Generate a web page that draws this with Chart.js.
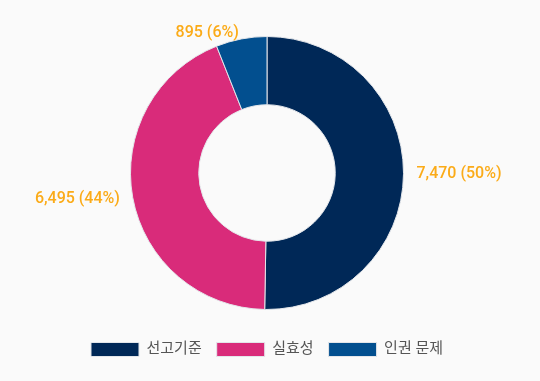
<!DOCTYPE html>
<html>
<head>
<meta charset="UTF-8">
<title>선고기준</title>
<script src="https://cdn.jsdelivr.net/npm/chart.js"></script>
<style>
    html, body { margin: 0; padding: 0; background: #fafafa; }
    #wrap { width: 540px; height: 381px; }
</style>
</head>
<body>
<div id="wrap"><canvas id="donutChart"></canvas></div>
<script>
    // 데이터
    const labels = ['선고기준', '실효성', '인권 문제'];
    const counts = [7470, 6495, 895];
    const colors = ['#002857', '#d92b7a', '#024f8f'];

    const total = counts.reduce((a, b) => a + b, 0);

    // 바깥쪽 값 라벨
    const outLabels = {
        id: 'outLabels',
        afterDatasetsDraw(chart) {
            const ctx = chart.ctx;
            const meta = chart.getDatasetMeta(0);
            ctx.save();
            ctx.font = '500 16px Roboto, "Noto Sans CJK KR", sans-serif';
            ctx.fillStyle = '#fbab18';
            ctx.textBaseline = 'middle';
            meta.data.forEach((arc, i) => {
                const mid = (arc.startAngle + arc.endAngle) / 2;
                const x = arc.x + Math.cos(mid) * (arc.outerRadius + 13);
                const y = arc.y + Math.sin(mid) * (arc.outerRadius + 6);
                ctx.textAlign = Math.cos(mid) >= 0 ? 'left' : 'right';
                const pct = Math.round(counts[i] / total * 100);
                ctx.fillText(counts[i].toLocaleString('en-US') + ' (' + pct + '%)', x, y);
            });
            ctx.restore();
        }
    };

    new Chart(document.getElementById('donutChart'), {
        type: 'doughnut',
        data: {
            labels: labels,
            datasets: [{
                data: counts,
                backgroundColor: colors,
                borderColor: '#e3e6ea',
                borderWidth: 1
            }]
        },
        options: {
            responsive: true,
            maintainAspectRatio: false,
            animation: false,
            cutout: '50%',
            layout: { padding: { top: 36, bottom: 14, left: 0, right: 6 } },
            plugins: {
                legend: {
                    position: 'bottom',
                    title: {
                        display: true,
                        text: ' ',
                        font: { size: 10 },
                        padding: { top: 5, bottom: 0 }
                    },
                    labels: {
                        boxWidth: 48,
                        boxHeight: 14,
                        padding: 15,
                        color: '#555',
                        font: { size: 15, family: 'Roboto, "Noto Sans CJK KR", sans-serif' }
                    }
                },
                tooltip: { enabled: false }
            }
        },
        plugins: [outLabels]
    });
</script>
</body>
</html>
